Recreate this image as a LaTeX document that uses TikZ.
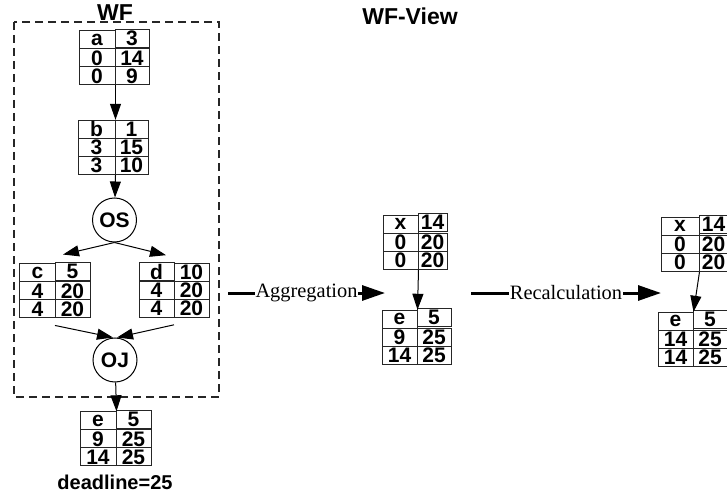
\documentclass[tikz,border=0pt]{standalone}
\usepackage{fontspec}
\setmainfont{Liberation Serif}
\setsansfont{Liberation Sans}
\usetikzlibrary{arrows.meta, matrix, positioning}
\tikzset{
  % thin lines everywhere, arrows as filled triangles
  every picture/.append style = {line width=0.5pt},
  tabcell/.style  = {draw=black!85, inner sep=0pt, minimum height=9pt,
                     font=\sffamily\bfseries\fontsize{10.5}{10.5}\selectfont},
  wftable/.style 2 args = {matrix of nodes, nodes={tabcell},
                     column sep=-0.5pt, row sep=-0.5pt,
                     column 1/.style={nodes={minimum width=#1}},
                     column 2/.style={nodes={minimum width=#2}}},
  opnode/.style   = {circle, draw, minimum size=22pt, inner sep=0pt,
                     font=\sffamily\bfseries\fontsize{10.5}{10.5}\selectfont},
  flow/.style     = {-{Triangle[length=8pt, width=5.5pt]}},
  bigflow/.style  = {-{Triangle[length=11.5pt, width=7.5pt]}, line width=1.5pt},
  flowlbl/.style  = {fill=white, inner xsep=0.5pt, inner ysep=0pt,
                     font=\fontsize{10.2}{10.2}\selectfont},
  title/.style    = {font=\sffamily\bfseries\fontsize{11.5}{11.5}\selectfont},
  wfbox/.style    = {draw=black!85, line width=0.6pt, dash pattern=on 4pt off 2.5pt},
}
\begin{document}
\begin{tikzpicture}[x=0.5pt, y=-0.5pt]
  \useasboundingbox (0,0) rectangle (727,497);
  \clip (0,0) rectangle (727,497);
  % the workflow
  \draw[wfbox] (14,22) rectangle (219,397);
  \node[title] (wf) at (115,12.5) {WF};
  \matrix (a) [wftable={18pt}{17pt}] at (114,57) {a & 3\\ 0 & 14\\ 0 & 9\\};
  \matrix (b) [wftable={18.5pt}{16.5pt}] at (113,147.5) {b & 1\\ 3 & 15\\ 3 & 10\\};
  \node[opnode] (os) at (114.5,220) {OS};
  \matrix (c) [wftable={17.5pt}{17.5pt}] at (55,290) {c & 5\\ 4 & 20\\ 4 & 20\\};
  \matrix (d) [wftable={17.5pt}{17.5pt}] at (174,290) {d & 10\\ 4 & 20\\ 4 & 20\\};
  \node[opnode] (oj) at (115,360) {OJ};
  \matrix (e) [wftable={18pt}{17.5pt}] at (115.5,438) {e & 5\\ 9 & 25\\ 14 & 25\\};
  \node[font=\sffamily\bfseries\fontsize{10}{10}\selectfont] (dl) at (115,482) {deadline=25};
  \draw[flow] (a-3-1.south east) -- (b-1-1.north east);
  \draw[flow] (b-3-1.south east) -- (os);
  \draw[flow] (os.south) -- ([xshift=4pt]c.north);
  \draw[flow] (os.south) -- ([xshift=-4pt]d.north);
  \draw[flow] (c.south) -- ([xshift=-1pt]oj.north);
  \draw[flow] (d.south) -- ([xshift=1pt]oj.north);
  \draw[flow] (oj) -- (e-1-1.north east);
  % the view, before and after recalculation
  \node[title] (view) at (410,16) {WF-View};
  \matrix (vx) [wftable={17.5pt}{14.5pt}] at (415,241.5) {x & 14\\ 0 & 20\\ 0 & 20\\};
  \matrix (ve) [wftable={17.5pt}{17pt}] at (416.5,336.5) {e & 5\\ 9 & 25\\ 14 & 25\\};
  \draw[flow] (vx-3-1.south east) -- (ve-1-1.north east);
  \matrix (rx) [wftable={19pt}{14.5pt}] at (694.5,243.5) {x & 14\\ 0 & 20\\ 0 & 20\\};
  \matrix (re) [wftable={17.5pt}{17pt}] at (692.5,338.5) {e & 5\\ 14 & 25\\ 14 & 25\\};
  \draw[flow] (rx-3-1.south east) -- (re-1-1.north east);
  % transformation arrows
  \coordinate (aggL) at (228,293);
  \coordinate (aggR) at (385,293);
  \draw[bigflow] (aggL) -- node[flowlbl] (agg) {Aggregation} (aggR);
  \coordinate (recL) at (471,293);
  \coordinate (recR) at (661,293);
  \draw[bigflow] (recL) -- node[flowlbl] (rec) {Recalculation} (recR);
\end{tikzpicture}
\end{document}
